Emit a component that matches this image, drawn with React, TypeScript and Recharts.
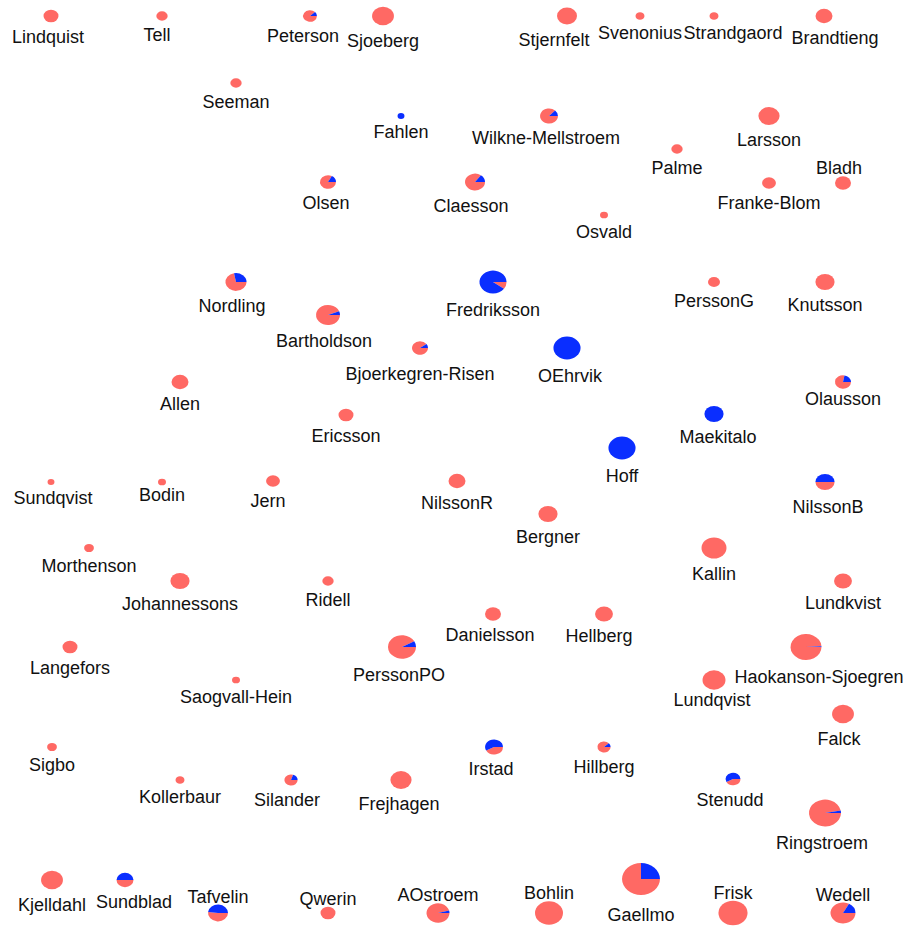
import { ScatterChart, Scatter, XAxis, YAxis, ZAxis, Sector } from 'recharts';

// node layout (x, y in layout units), size (count) and blue share
const names = [
  'Lindquist', 'Tell', 'Peterson', 'Sjoeberg', 'Stjernfelt', 'Svenonius', 'Strandgaord', 'Brandtieng',
  'Seeman', 'Fahlen', 'Wilkne-Mellstroem', 'Larsson', 'Palme', 'Olsen', 'Claesson', 'Franke-Blom',
  'Bladh', 'Osvald', 'Nordling', 'Fredriksson', 'PerssonG', 'Knutsson', 'Bartholdson', 'Bjoerkegren-Risen',
  'OEhrvik', 'Allen', 'Olausson', 'Ericsson', 'Maekitalo', 'Hoff', 'Sundqvist', 'Bodin',
  'Jern', 'NilssonR', 'NilssonB', 'Bergner', 'Morthenson', 'Kallin', 'Johannessons', 'Ridell',
  'Lundkvist', 'Danielsson', 'Hellberg', 'Langefors', 'PerssonPO', 'Haokanson-Sjoegren', 'Saogvall-Hein', 'Lundqvist',
  'Falck', 'Sigbo', 'Irstad', 'Hillberg', 'Kollerbaur', 'Silander', 'Frejhagen', 'Stenudd',
  'Ringstroem', 'Kjelldahl', 'Sundblad', 'Gaellmo', 'Tafvelin', 'Qwerin', 'AOstroem', 'Bohlin',
  'Frisk', 'Wedell',
];

const posX = [
  51, 162, 310, 383, 567, 640, 714, 824,
  236, 401, 549, 769, 677, 328, 475, 769,
  843, 604, 236, 493, 714, 825, 328, 420,
  567, 180, 843, 346, 714, 622, 51, 162,
  273, 457, 825, 548, 89, 714, 180, 328,
  843, 493, 604, 70, 402, 806, 236, 714,
  843, 52, 494, 604, 180, 291, 401, 733,
  825, 52, 125, 641, 218, 328, 438, 549,
  733, 843,
];

const posY = [
  16, 16, 16, 16, 16, 16, 16, 16,
  83, 116, 116, 116, 149, 182, 182, 183,
  183, 215, 282, 282, 282, 282, 315, 348,
  348, 382, 382, 415, 414, 448, 482, 482,
  481, 481, 482, 514, 548, 548, 581, 581,
  581, 614, 614, 647, 647, 647, 680, 680,
  714, 747, 747, 747, 780, 780, 780, 779,
  813, 880, 880, 879, 913, 913, 913, 913,
  913, 913,
];

const counts = [
  14, 8, 12, 30, 25, 5, 5, 18,
  8, 3, 20, 28, 8, 16, 25, 12,
  16, 4, 28, 46, 9, 23, 36, 16,
  46, 18, 16, 14, 23, 46, 3, 4,
  12, 18, 23, 23, 6, 39, 23, 8,
  20, 16, 20, 14, 49, 60, 4, 33,
  30, 6, 20, 11, 5, 11, 28, 14,
  64, 30, 18, 90, 25, 14, 33, 49,
  53, 39,
];

const blueShare = [
  0, 0, 0.12, 0, 0, 0, 0, 0,
  0, 1, 0.13, 0, 0, 0.17, 0.15, 0,
  0, 0, 0.28, 0.9, 0, 0, 0.06, 0.1,
  1, 0, 0.22, 0, 1, 1, 0, 0,
  0, 0, 0.5, 0, 0, 0, 0, 0,
  0, 0, 0, 0, 0.08, 0.01, 0, 0,
  0, 0, 0.58, 0.12, 0, 0.2, 0, 0.58,
  0.03, 0, 0.5, 0.25, 0.48, 0, 0.04, 0,
  0, 0.17,
];

const labelsAbove = ['Bladh', 'Tafvelin', 'Qwerin', 'AOstroem', 'Bohlin', 'Frisk', 'Wedell'];

const labelNudge: Record<string, [number, number]> = {
  Lindquist: [-3, 0], Tell: [-5, 0], Peterson: [-7, 0], Stjernfelt: [-13, 0],
  Strandgaord: [19, 0], Brandtieng: [11, 0], 'Wilkne-Mellstroem': [-3, 0], Claesson: [-4, 0],
  Nordling: [-4, 0], Bartholdson: [-4, 0], 'Bjoerkegren-Risen': [0, 5], OEhrvik: [3, 0],
  Olausson: [0, -4], Maekitalo: [4, 0], Bodin: [0, -4], Jern: [-5, 0], Sundqvist: [2, 0],
  NilssonB: [3, 2], 'Haokanson-Sjoegren': [13, 0], Lundqvist: [-2, -5], Falck: [-4, 0],
  Hellberg: [-5, 0], Danielsson: [-3, 0], Sundblad: [9, 0], PerssonPO: [-3, 0],
  Frejhagen: [-2, 0], Silander: [-4, 0], Irstad: [-3, 0], Stenudd: [-3, 0],
  Ringstroem: [-3, 0], Gaellmo: [0, 2], Bladh: [-4, 0], Olsen: [-2, 0],
};

const SALMON = '#ff6964';
const BLUE = '#0a2eff';
const SQUASH = 0.84;

const nodes = names.map((name, i) => ({
  name,
  x: posX[i],
  y: posY[i],
  count: counts[i],
  blue: blueShare[i],
}));

function PieNode(props: any) {
  const { cx, cy, size, width, payload } = props;
  if (cx == null || cy == null) return null;
  const r = size != null ? Math.sqrt(size / Math.PI) : width / 2;
  const share = payload.blue;
  const end = share * 360;
  const above = labelsAbove.includes(payload.name);
  const [dx, dy] = labelNudge[payload.name] || [0, 0];
  const ly = above ? cy - r * SQUASH - 2 : cy + 11 + 1.15 * r + 7;

  return (
    <g>
      <g transform={`translate(${cx},${cy}) scale(1,${SQUASH})`}>
        {share <= 0 && <circle cx={0} cy={0} r={r} fill={SALMON} />}
        {share >= 1 && <circle cx={0} cy={0} r={r} fill={BLUE} />}
        {share > 0 && share < 1 && (
          <>
            <Sector cx={0} cy={0} innerRadius={0} outerRadius={r} startAngle={end} endAngle={360} fill={SALMON} />
            <Sector cx={0} cy={0} innerRadius={0} outerRadius={r} startAngle={0} endAngle={end} fill={BLUE} />
          </>
        )}
      </g>
      <text
        x={cx + dx}
        y={ly + dy}
        textAnchor="middle"
        fontFamily="'Liberation Sans', Arial, sans-serif"
        fontSize={18}
        fill="#111"
      >
        {payload.name}
      </text>
    </g>
  );
}

export default function App() {
  return (
    <div style={{ position: 'absolute', left: 0, top: 0, width: 906, height: 926, background: '#fff' }}>
      <ScatterChart width={906} height={926} margin={{ top: 0, right: 0, bottom: 0, left: 0 }}>
        <XAxis type="number" dataKey="x" domain={[0, 906]} hide />
        <YAxis type="number" dataKey="y" domain={[0, 926]} reversed hide />
        <ZAxis type="number" dataKey="count" domain={[0, 100]} range={[0, 400 * Math.PI]} />
        <Scatter data={nodes} shape={PieNode} isAnimationActive={false} />
      </ScatterChart>
    </div>
  );
}
